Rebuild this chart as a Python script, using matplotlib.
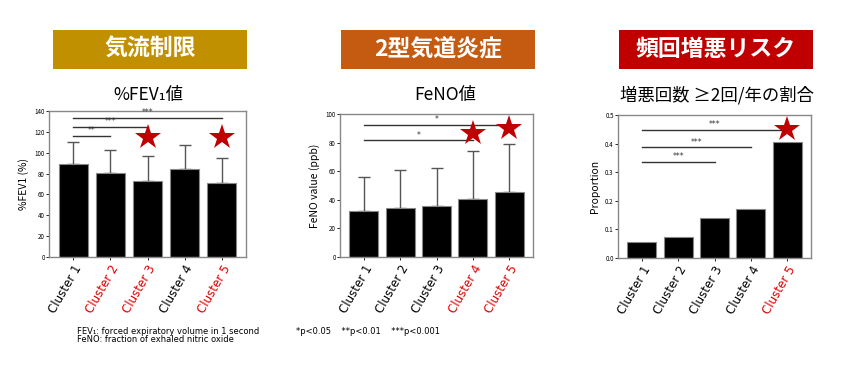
import matplotlib as mpl
mpl.use("Agg")
import matplotlib.pyplot as plt
from matplotlib.patches import Rectangle

plt.rcParams['font.family'] = ['Noto Sans CJK JP', 'DejaVu Sans']

W, H = 846, 369
clusters = ["Cluster 1", "Cluster 2", "Cluster 3", "Cluster 4", "Cluster 5"]

fev1_mean = [89, 80.5, 73, 84, 71]
fev1_sd = [21, 22, 23.5, 23, 24]
fev1_red = [False, True, True, False, True]
fev1_sig = [(0, 1, 116, "**"), (0, 2, 125, "***"), (0, 4, 133.5, "***")]
fev1_stars = [(2, 115), (4, 115)]

feno_mean = [32, 34.5, 35.5, 40.5, 45.5]
feno_sd = [24, 26, 26.5, 33.5, 33.5]
feno_red = [False, False, False, True, True]
feno_sig = [(0, 3, 81.5, "*"), (0, 4, 92.5, "*")]
feno_stars = [(3, 87), (4, 90)]

exac_prop = [0.055, 0.073, 0.14, 0.173, 0.405]
exac_red = [False, False, False, False, True]
exac_sig = [(0, 2, 0.336, "***"), (0, 3, 0.387, "***"), (0, 4, 0.447, "***")]
exac_stars = [(4, 0.45)]

headers = ["気流制限", "2型気道炎症", "頻回増悪リスク"]
header_cols = ["#c09000", "#c55a11", "#c00000"]
header_x = [53, 341, 619]
subtitles = ["%FEV\u2081値", "FeNO値", "増悪回数 ≥2回/年の割合"]
ylabels = ["%FEV1 (%)", "FeNO value (ppb)", "Proportion"]

fig = plt.figure(figsize=(W / 100, H / 100), dpi=100)


def px_axes(x0, y0, x1, y1):
    return fig.add_axes([x0 / W, 1 - y1 / H, (x1 - x0) / W, (y1 - y0) / H])


def panel(ax, vals, err, red, sig, stars, ymax, ystep, ylab, fmt):
    xs = range(len(vals))
    ax.bar(xs, vals, width=0.8, color="black", edgecolor="#888888", linewidth=0.8, zorder=2)
    if err is not None:
        ax.errorbar(xs, vals, yerr=[[0] * len(vals), err], fmt="none", ecolor="#555555",
                    elinewidth=1, capsize=4, capthick=1, zorder=1)
    for a, b, y, s in sig:
        ax.plot([a, b], [y, y], color="#333333", lw=1)
        ax.text((a + b) / 2, y + ymax * 0.005, s, ha="center", va="bottom", fontsize=5.5,
                family="DejaVu Sans", color="#333333")
    for i, y in stars:
        ax.plot(i, y, marker="*", markersize=19, color="#c00000", markeredgewidth=0, zorder=3)
    ax.set_xlim(-0.66, 4.66)
    ax.set_ylim(0, ymax)
    ax.set_yticks([k * ystep for k in range(int(round(ymax / ystep)) + 1)])
    ax.yaxis.set_major_formatter(fmt)
    ax.tick_params(axis="y", labelsize=4.5, length=2, width=0.6, pad=1)
    ax.tick_params(axis="x", labelsize=8.5, length=2, width=0.6, pad=2)
    ax.set_xticks(list(xs))
    ax.set_xticklabels(clusters, rotation=60, ha="right", rotation_mode="anchor",
                       family="DejaVu Sans")
    for lab, r in zip(ax.get_xticklabels(), red):
        lab.set_color("#e00000" if r else "black")
    for sp in ax.spines.values():
        sp.set_color("#888888")
        sp.set_linewidth(1)
    ax.set_ylabel(ylab, fontsize=7.5, labelpad=4)


ax1 = px_axes(49, 111, 246, 257)
panel(ax1, fev1_mean, fev1_sd, fev1_red, fev1_sig, fev1_stars, 140, 20, ylabels[0],
      mpl.ticker.FormatStrFormatter("%d"))
ax2 = px_axes(340, 114, 533, 257)
panel(ax2, feno_mean, feno_sd, feno_red, feno_sig, feno_stars, 100, 20, ylabels[1],
      mpl.ticker.FormatStrFormatter("%d"))
ax3 = px_axes(618, 115, 811, 258)
panel(ax3, exac_prop, None, exac_red, exac_sig, exac_stars, 0.5, 0.1, ylabels[2],
      mpl.ticker.FormatStrFormatter("%.1f"))

# header boxes
for txt, col, x0 in zip(headers, header_cols, header_x):
    fig.patches.append(Rectangle((x0 / W, 1 - 69 / H), 194 / W, 39 / H, transform=fig.transFigure,
                                 facecolor=col, edgecolor="none"))
    fig.text((x0 + 97) / W, 1 - 49.5 / H, txt, ha="center", va="center", color="white",
             fontsize=16.5, fontweight="bold")

sub_x = [148, 445, 717]
for txt, x in zip(subtitles, sub_x):
    fig.text(x / W, 1 - 95 / H, txt, ha="center", va="center", fontsize=12.5)

fig.text(77 / W, 1 - 331 / H, "FEV\u2081: forced expiratory volume in 1 second", fontsize=6,
         va="center", family=["DejaVu Sans"])
fig.text(77 / W, 1 - 340 / H, "FeNO: fraction of exhaled nitric oxide", fontsize=6,
         va="center", family=["DejaVu Sans"])
fig.text(296 / W, 1 - 331 / H, "*p<0.05    **p<0.01    ***p<0.001", fontsize=6,
         va="center", family=["DejaVu Sans"])

fig.savefig("out.png", dpi=100)
